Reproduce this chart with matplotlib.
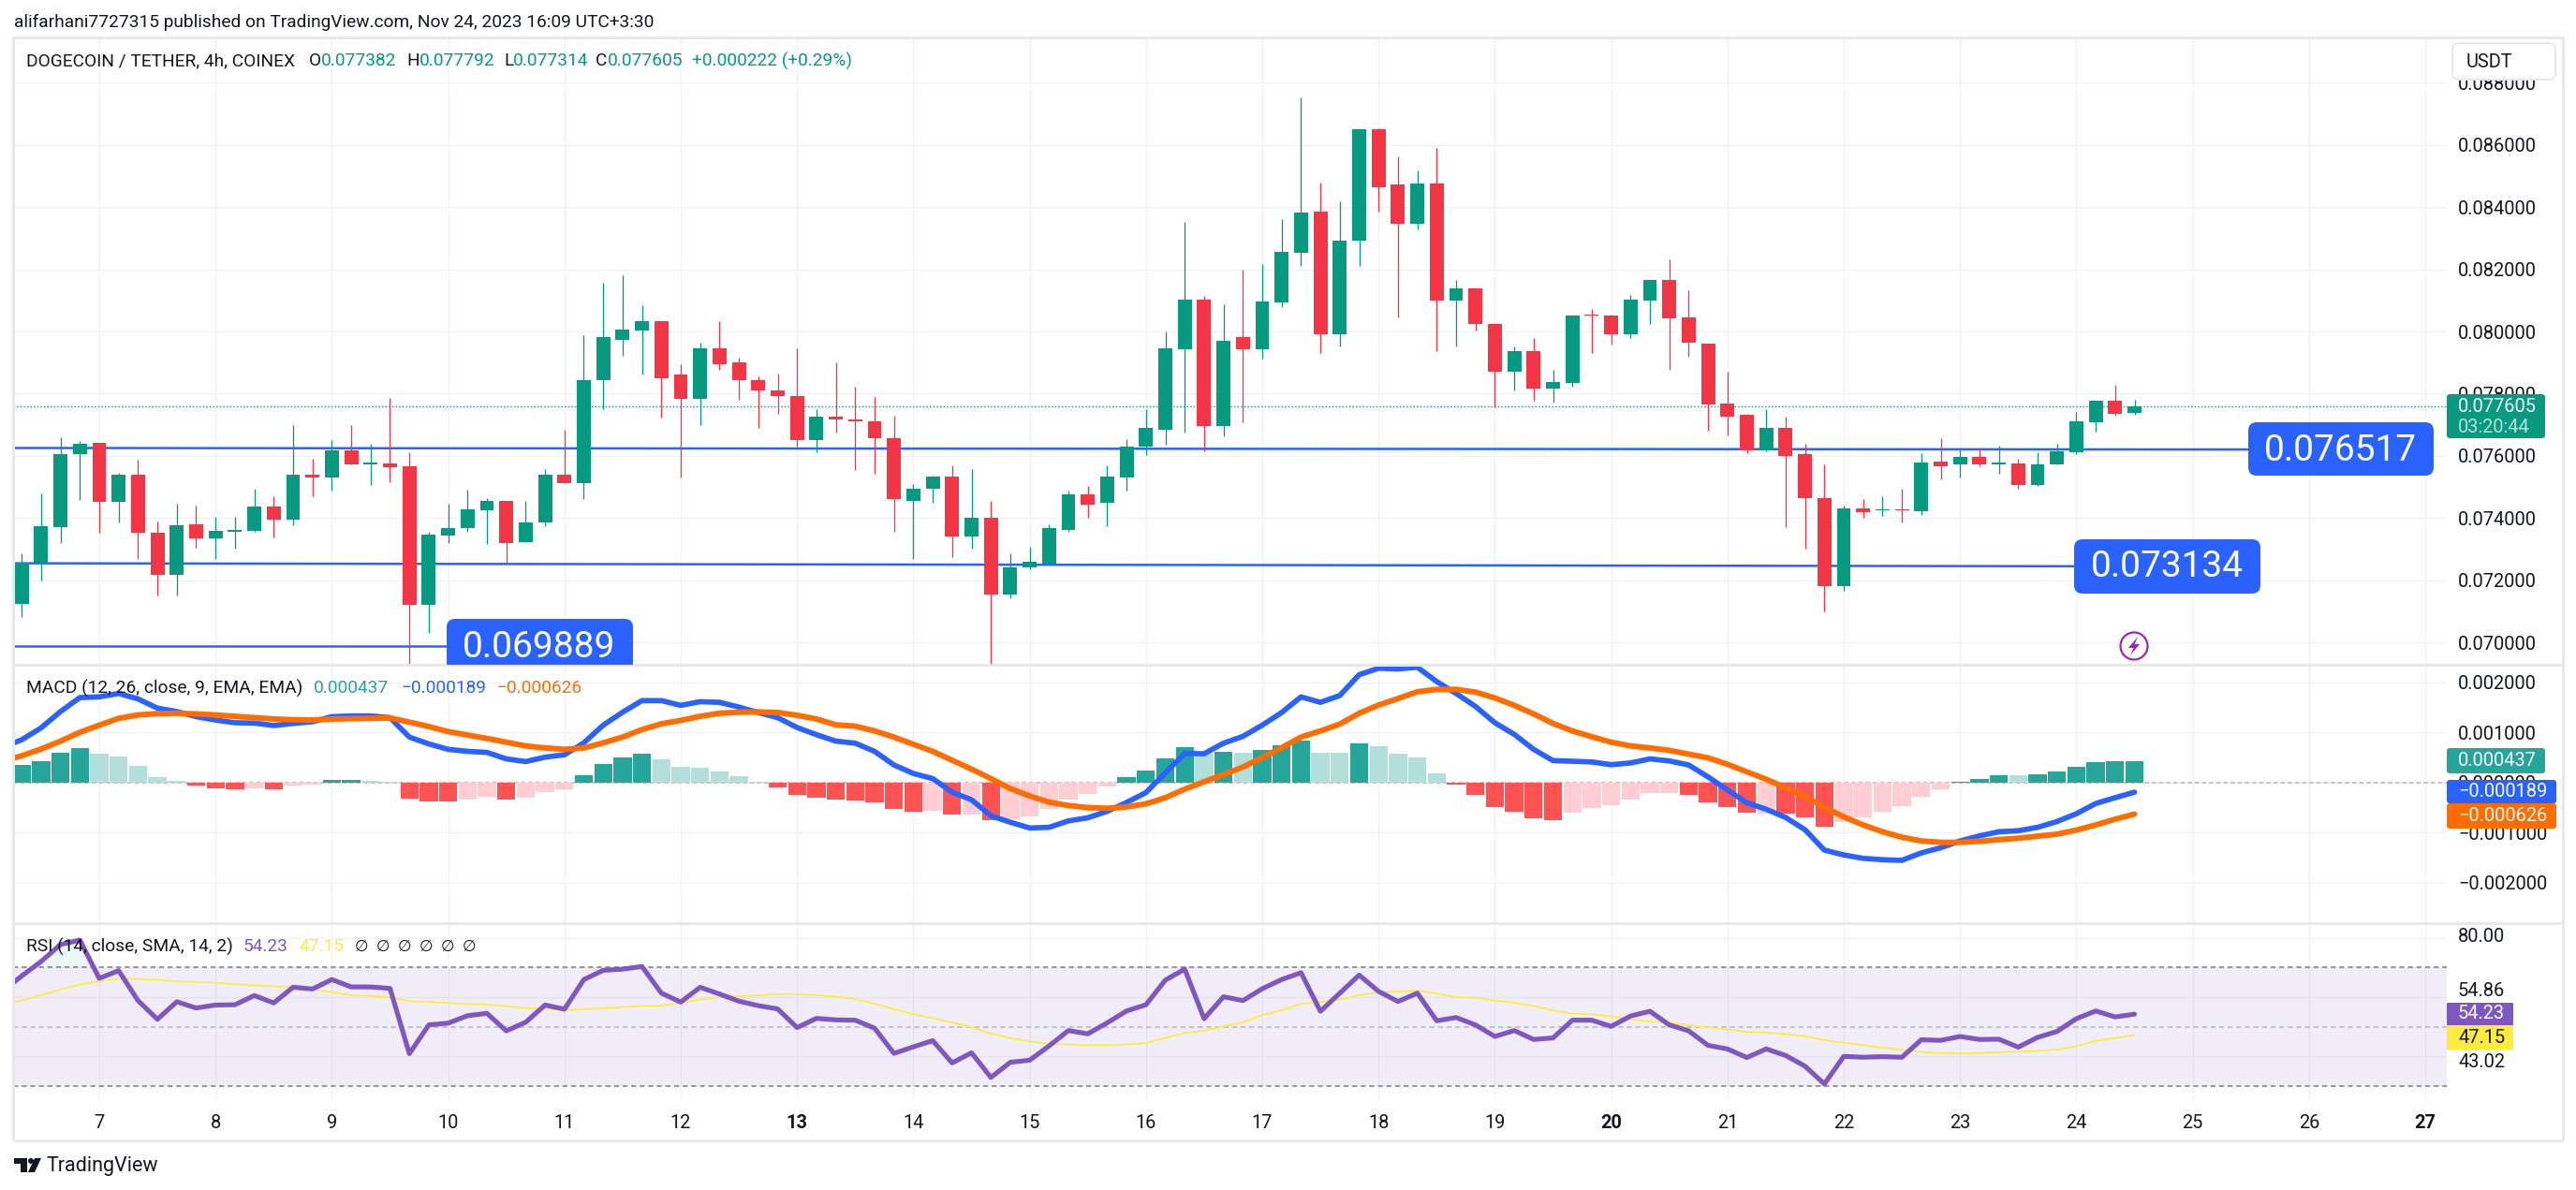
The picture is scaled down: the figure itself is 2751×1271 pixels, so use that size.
import numpy as np
import matplotlib.pyplot as plt
from matplotlib.patches import FancyBboxPatch, Rectangle, Polygon, Circle

plt.rcParams['font.family'] = ['Roboto', 'DejaVu Sans']

W, H = 2751, 1271
INK = '#131722'
GREEN = '#089981'
RED = '#f23645'
GRID = '#f0f2f6'
EDGE = '#e6e8ee'
FS = 14.4
LEG = 13.8

# candles, prices in millionths of USDT
open_e6 = [71245, 72559, 73693, 76044, 76431, 74509, 75380, 73540, 72185, 73803,
           73333, 73568, 73596, 74384, 73955, 75408, 75311, 76182, 75739, 75767,
           75670, 71217, 73444, 73665, 74260, 74536, 73236, 73872, 75408, 75131,
           78422, 79736, 80041, 80345, 78602, 77842, 79474, 79017, 78450, 78118,
           77938, 76514, 77247, 77183, 77097, 76581, 74563, 74932, 75326, 73419,
           73998, 71550, 72399, 72546, 73629, 74748, 74477, 75289, 76285, 76851,
           79422, 81021, 76974, 79815, 79422, 80922, 82521, 83850, 79926, 82915,
           86494, 84723, 83456, 84748, 80984, 81402, 80258, 78696, 79385, 78155,
           78339, 80529, 80504, 79902, 80984, 81648, 80469, 79626, 77689, 77330,
           76182, 76915, 76044, 74647, 71798, 74315, 74246, 74287, 74232, 75822,
           75712, 75975, 75739, 75767, 75048, 75712, 76127, 77067, 77759, 77382]
high_e6 = [72877, 74799, 76611, 76486, 76431, 75463, 75864, 73900, 74467, 74412,
           74052, 74025, 74951, 74688, 76998, 75892, 76514, 76998, 76403, 77869,
           76127, 73554, 74467, 74923, 74647, 74564, 74536, 75560, 76846, 79888,
           81576, 81797, 80857, 80345, 78962, 79653, 80345, 79169, 78561, 78658,
           79446, 77510, 79017, 78216, 77884, 77282, 75105, 75375, 75707, 75560,
           74539, 72854, 73063, 73788, 74895, 75018, 75683, 76531, 77491, 79988,
           83518, 81132, 80861, 82005, 82165, 83604, 87528, 84785, 84182, 86494,
           86544, 85621, 85178, 85892, 81673, 81402, 80258, 79508, 79779, 78782,
           80529, 80713, 80553, 81168, 81673, 82312, 81313, 79626, 78713, 77358,
           77510, 77275, 76403, 75712, 74412, 74619, 74716, 74951, 76099, 76583,
           76224, 76279, 76334, 75919, 76127, 76403, 77399, 77759, 78298, 77792]
low_e6 = [70830, 72005, 73181, 74592, 73513, 73872, 72669, 71521, 71521, 73056,
          72697, 73029, 73568, 73388, 73776, 74688, 74896, 75739, 75076, 75159,
          69308, 70290, 73209, 73568, 73153, 72559, 73236, 73748, 75131, 74619,
          77510, 79225, 78630, 77219, 75311, 76998, 78754, 77814, 76915, 77358,
          76293, 76113, 76749, 75547, 75437, 73542, 72694, 74502, 72731, 73001,
          69299, 71427, 72349, 72546, 73542, 74022, 73752, 74895, 76015, 76347,
          76740, 76138, 76617, 77073, 79114, 80775, 82103, 79299, 79508, 82103,
          83850, 80467, 83272, 79385, 79508, 80025, 77565, 78118, 77761, 77700,
          78216, 79323, 79594, 79779, 80258, 78758, 79197, 76818, 76666, 76099,
          76154, 73693, 73001, 71010, 71646, 73997, 74080, 73872, 74108, 75255,
          75311, 75670, 75435, 74951, 75020, 75712, 76044, 76791, 77302, 77314]
close_e6 = [72559, 73748, 76071, 76376, 74509, 75380, 73513, 72157, 73776, 73361,
            73596, 73610, 74384, 73955, 75408, 75311, 76182, 75739, 75767, 75643,
            71217, 73471, 73665, 74287, 74536, 73209, 73872, 75408, 75131, 78450,
            79833, 80068, 80345, 78505, 77842, 79474, 78962, 78450, 78118, 77911,
            76514, 77247, 77164, 77097, 76556, 74600, 74957, 75326, 73419, 73998,
            71550, 72423, 72583, 73665, 74748, 74440, 75326, 76310, 76888, 79446,
            81021, 76950, 79692, 79422, 80959, 82558, 83813, 79926, 82915, 86494,
            84637, 83456, 84748, 80984, 81402, 80234, 78696, 79385, 78155, 78364,
            80529, 80504, 79902, 81021, 81673, 80418, 79653, 77662, 77275, 76182,
            76887, 76002, 74647, 71798, 74315, 74204, 74287, 74246, 75795, 75670,
            75975, 75712, 75767, 75048, 75739, 76154, 77122, 77759, 77358, 77605]

# MACD histogram and lines, in millionths, lines start one bar before the first candle
hist_e6 = [360, 435, 598, 694, 585, 524, 340, 116, 41, -54,
           -109, -129, -109, -129, -54, -34, 61, 61, 41, 20,
           -313, -367, -367, -333, -279, -333, -292, -184, -129, 156,
           374, 510, 585, 469, 320, 299, 224, 136, 20, -88,
           -238, -292, -333, -354, -388, -517, -578, -558, -632, -632,
           -741, -728, -666, -517, -333, -218, -68, 116, 245, 490,
           714, 571, 619, 598, 660, 748, 843, 598, 598, 789,
           734, 585, 510, 190, -34, -238, -483, -578, -707, -741,
           -592, -503, -442, -333, -204, -204, -238, -388, -483, -592,
           -626, -612, -687, -877, -782, -687, -578, -462, -279, -129,
           20, 82, 143, 143, 170, 224, 320, 415, 435, 437]
hist_strong = [1, 1, 1, 1, 0, 0, 0, 0, 0, 1,
               1, 1, 0, 1, 0, 0, 1, 1, 0, 0,
               1, 1, 1, 0, 0, 1, 0, 0, 0, 1,
               1, 1, 1, 0, 0, 0, 0, 0, 0, 1,
               1, 1, 1, 1, 1, 1, 1, 0, 1, 0,
               1, 0, 0, 0, 0, 0, 0, 1, 1, 1,
               1, 0, 1, 0, 1, 1, 1, 0, 0, 1,
               0, 0, 0, 0, 1, 1, 1, 1, 1, 1,
               0, 0, 0, 0, 0, 0, 1, 1, 1, 1,
               0, 1, 1, 1, 0, 0, 0, 0, 0, 0,
               1, 1, 1, 0, 1, 1, 1, 1, 1, 1]
macd_e6 = [707, 857, 1095, 1421, 1700, 1714, 1782, 1673, 1489, 1421, 1319,
           1251, 1197, 1190, 1142, 1183, 1217, 1319, 1333, 1333, 1299,
           911, 775, 666, 626, 605, 476, 422, 510, 558, 796,
           1149, 1408, 1639, 1639, 1544, 1618, 1605, 1510, 1401, 1299,
           1102, 959, 830, 789, 626, 354, 184, 82, -190, -340,
           -660, -789, -904, -891, -762, -700, -571, -394, -197, 197,
           585, 578, 789, 925, 1149, 1401, 1714, 1605, 1741, 2156,
           2285, 2271, 2305, 2020, 1782, 1523, 1197, 966, 666, 442,
           428, 415, 360, 394, 476, 435, 354, 116, -143, -401,
           -530, -694, -938, -1346, -1442, -1510, -1537, -1550, -1401, -1299,
           -1163, -1061, -979, -959, -891, -775, -619, -415, -299, -189]
signal_e6 = [435, 537, 673, 830, 1006, 1149, 1285, 1353, 1380, 1387, 1374,
             1353, 1326, 1299, 1272, 1258, 1251, 1272, 1278, 1285, 1292,
             1210, 1122, 1020, 952, 884, 809, 734, 694, 666, 694,
             796, 911, 1061, 1176, 1244, 1326, 1387, 1408, 1414, 1401,
             1346, 1272, 1156, 1129, 1034, 911, 768, 626, 449, 272,
             82, -116, -265, -388, -456, -496, -510, -483, -422, -299,
             -129, 20, 163, 313, 503, 700, 911, 1034, 1170, 1387,
             1550, 1680, 1816, 1863, 1863, 1809, 1693, 1544, 1374, 1183,
             1034, 918, 809, 734, 694, 646, 571, 496, 367, 218,
             68, -102, -272, -496, -680, -843, -979, -1088, -1163, -1190,
             -1190, -1170, -1136, -1108, -1068, -1027, -945, -843, -728, -626]

# RSI and its average, same x as the MACD lines
rsi = [61.9, 67.1, 72.0, 77.7, 79.2, 66.3, 68.9, 58.8, 52.5, 58.4, 56.3,
       57.3, 57.4, 60.5, 58.0, 63.3, 62.7, 65.9, 63.4, 63.4, 62.9,
       40.9, 50.6, 51.2, 53.7, 54.5, 48.6, 51.5, 57.3, 55.9, 65.9,
       69.0, 69.4, 70.3, 61.3, 58.3, 63.3, 61.0, 58.6, 57.1, 56.0,
       49.7, 52.8, 52.3, 52.2, 49.5, 41.0, 43.2, 45.3, 37.8, 41.2,
       32.9, 38.0, 38.7, 43.5, 48.7, 47.6, 51.3, 55.3, 57.4, 65.7,
       69.4, 52.7, 60.1, 58.8, 62.8, 65.9, 68.2, 55.2, 61.3, 67.4,
       61.9, 58.5, 61.3, 52.0, 53.1, 50.6, 46.7, 48.7, 45.7, 46.2,
       52.2, 52.2, 50.1, 53.6, 55.2, 50.6, 48.6, 43.7, 42.5, 39.6,
       42.5, 40.3, 36.7, 30.7, 40.0, 39.7, 39.9, 39.7, 45.6, 45.4,
       46.7, 45.7, 45.8, 43.1, 46.4, 48.4, 52.7, 55.3, 53.3, 54.23]
rsi_ma = [57.6, 58.8, 60.7, 62.5, 64.2, 65.3, 66.1, 66.1, 65.8, 65.3, 65.1,
          64.8, 64.3, 64.0, 63.6, 63.3, 62.6, 61.6, 60.6, 60.4, 59.9,
          58.6, 58.4, 58.0, 57.7, 57.5, 56.9, 56.3, 56.0, 55.7, 55.9,
          56.2, 56.6, 57.0, 57.0, 58.1, 59.2, 59.9, 60.3, 60.5, 61.0,
          61.0, 60.6, 60.1, 59.3, 57.8, 55.9, 54.2, 52.9, 51.4, 49.8,
          47.7, 46.2, 45.0, 44.3, 44.0, 43.8, 43.8, 44.0, 44.5, 46.3,
          47.9, 48.7, 50.1, 51.5, 53.9, 55.5, 57.8, 58.3, 59.1, 60.7,
          61.5, 61.9, 62.1, 61.2, 59.9, 59.8, 58.8, 58.1, 57.0, 55.5,
          54.4, 54.2, 53.5, 52.4, 51.8, 51.4, 50.5, 49.8, 49.1, 48.3,
          48.0, 47.5, 46.8, 45.5, 44.6, 43.8, 42.9, 42.2, 41.5, 41.1,
          41.0, 41.1, 41.4, 41.6, 41.8, 42.3, 43.4, 45.2, 46.2, 47.15]

days = list(range(7, 28))
bold_days = [13, 20, 27]
price_ticks = [0.070, 0.072, 0.074, 0.076, 0.078, 0.080, 0.082, 0.084, 0.086, 0.088]
macd_ticks = [-0.002, -0.001, 0.0, 0.001, 0.002]
rsi_grid = [40, 60, 80]
# the three hand drawn levels: (value at left, value at right)
level_a = (0.076253, 0.076205)
level_b = (0.072545, 0.072449)
level_c = (0.069892, 0.069892)

o = np.array(open_e6) / 1e6
h = np.array(high_e6) / 1e6
l = np.array(low_e6) / 1e6
c = np.array(close_e6) / 1e6
bars = np.arange(len(o))
line_x = np.arange(-1, len(o))
day_pos = [4 + (d - 7) * 6 for d in days]

fig = plt.figure(figsize=(W / 100, H / 100), dpi=100, facecolor='white')


def pane(top, bottom):
    ax = fig.add_axes([14 / W, 1 - bottom / H, (2613 - 14) / W, (bottom - top) / H])
    ax.set_xlim(-0.444, 125.11)
    for s in ax.spines.values():
        s.set_visible(False)
    ax.set_xticks(day_pos)
    ax.tick_params(axis='x', length=0, labelbottom=False)
    ax.yaxis.tick_right()
    ax.tick_params(axis='y', length=0, pad=8.6, labelsize=FS, labelcolor=INK)
    ax.grid(True, color=GRID, lw=1)
    ax.set_axisbelow(True)
    return ax


# price pane
ax1 = pane(40, 710)
ax1.set_ylim(0.06928, 0.08946)
ax1.set_yticks(price_ticks)
ax1.set_yticklabels(['%.6f' % t for t in price_ticks])
colors = [GREEN if a >= b else RED for a, b in zip(c, o)]
ax1.axhline(c[-1], color=GREEN, lw=1, ls=(0, (1, 1.6)), zorder=1.5)
ax1.plot([-0.444, 114.9], level_a, color='#2962ff', lw=1.8, zorder=1.6)
ax1.plot([-0.444, 105.9], level_b, color='#2962ff', lw=1.8, zorder=1.6)
ax1.plot([-0.444, 22], level_c, color='#2962ff', lw=1.8, zorder=1.6)
ax1.vlines(bars, l, h, colors=colors, lw=0.95, zorder=2)
ax1.bar(bars, np.maximum(np.abs(c - o), 0.00004), bottom=np.minimum(o, c), width=0.72,
        color=colors, zorder=3)

# MACD pane
ax2 = pane(710, 986)
ax2.set_ylim(-0.002804, 0.002355)
ax2.set_yticks(macd_ticks)
ax2.set_yticklabels([('%.6f' % t).replace('-', '\u2212') for t in macd_ticks])
hist = np.array(hist_e6) / 1e6
hist_colors = []
for v, s in zip(hist, hist_strong):
    if v >= 0:
        hist_colors.append('#26a69a' if s else '#b2dfdb')
    else:
        hist_colors.append('#ff5252' if s else '#ffcdd2')
ax2.axhline(0, color='#b2b5be', lw=1.1, ls=(0, (3, 2)), zorder=1.5)
ax2.bar(bars, hist, width=0.93, color=hist_colors, zorder=2)
ax2.plot(line_x, np.array(macd_e6) / 1e6, color='#2962ff', lw=4.1, solid_capstyle='round', zorder=3)
ax2.plot(line_x, np.array(signal_e6) / 1e6, color='#ff6d00', lw=4.3, solid_capstyle='round', zorder=4)

# RSI pane
ax3 = pane(986, 1175)
ax3.set_ylim(25.25, 84.9)
ax3.set_yticks(rsi_grid)
ax3.tick_params(axis='y', labelright=False)
ax3.axhspan(30, 70, color='#7e57c2', alpha=0.1, lw=0, zorder=1)
ax3.axhline(70, color='#787b86', lw=1.1, ls=(0, (3.5, 2.5)), zorder=1.5)
ax3.axhline(50, color='#b2b5be', lw=1.1, ls=(0, (3.5, 2.5)), zorder=1.5)
ax3.axhline(30, color='#787b86', lw=1.1, ls=(0, (3.5, 2.5)), zorder=1.5)
rsi_arr = np.array(rsi)
ax3.fill_between(line_x, 70, rsi_arr, where=rsi_arr > 70, interpolate=True,
                 color='#089981', alpha=0.08, lw=0, zorder=1.2)
ax3.plot(line_x, rsi_ma, color='#ffeb3b', lw=1.3, zorder=2)
ax3.plot(line_x, rsi, color='#7e57c2', lw=3.7, solid_capstyle='round', zorder=3)
ax3.tick_params(axis='x', labelbottom=True, pad=11, labelsize=FS, labelcolor=INK)
ax3.set_xticklabels([str(d) for d in days])
for lab, d in zip(ax3.get_xticklabels(), days):
    if d in bold_days:
        lab.set_fontweight('bold')

# overlay in pixels for frame, legends, price labels
ov = fig.add_axes([0, 0, 1, 1])
ov.set_xlim(0, W)
ov.set_ylim(H, 0)
ov.axis('off')
ov.patch.set_visible(False)

for y in [40, 710, 986, 1218]:
    ov.plot([14, 2737], [y, y], color=EDGE, lw=2.2, solid_capstyle='butt')
for x in [14, 2737]:
    ov.plot([x, x], [40, 1218], color=EDGE, lw=2.2, solid_capstyle='butt')


def txt(x, y, s, color=INK, size=FS, **kw):
    ov.text(x, y, s, color=color, fontsize=size, va='center', **kw)


def tag(x0, x1, y0, y1, color, round_px=3):
    ov.add_patch(FancyBboxPatch((x0, y0), x1 - x0, y1 - y0, linewidth=0, facecolor=color,
                                boxstyle='round,pad=0,rounding_size=%d' % round_px, zorder=5))


txt(15, 24, 'alifarhani7727315 published on TradingView.com, Nov 24, 2023 16:09 UTC+3:30', size=LEG)
txt(27.5, 65, 'DOGECOIN / TETHER, 4h, COINEX', size=LEG)
for x, s, col in [(329.5, 'O', INK), (343.3, '0.077382', GREEN), (434.6, 'H', INK), (447.8, '0.077792', GREEN),
                  (538, 'L', INK), (548, '0.077314', GREEN), (636, 'C', INK), (648.7, '0.077605', GREEN),
                  (739, '+0.000222 (+0.29%)', GREEN)]:
    txt(x, 65, s, color=col, size=LEG)

txt(27.5, 735, 'MACD (12, 26, close, 9, EMA, EMA)', size=LEG)
txt(335, 735, '0.000437', color='#26a69a', size=LEG)
txt(428, 735, '\u22120.000189', color='#2962ff', size=LEG)
txt(530, 735, '\u22120.000626', color='#ff6d00', size=LEG)

txt(27.5, 1011, 'RSI (14, close, SMA, 14, 2)', size=LEG)
txt(260, 1011, '54.23', color='#7e57c2', size=LEG)
txt(320, 1011, '47.15', color='#ffeb3b', size=LEG)
for x in [379, 402, 425, 448, 471, 494]:
    txt(x, 1011, '\u2205', size=12)

# USDT button
ov.add_patch(FancyBboxPatch((2619, 46), 110, 39, linewidth=1.4, edgecolor=EDGE, facecolor='white',
                            boxstyle='round,pad=0,rounding_size=7', zorder=5))
txt(2634, 66, 'USDT', zorder=6)

# last value tags on the scale
tag(2613, 2718, 421, 468, GREEN)
txt(2625, 434, '0.077605', color='white', zorder=6)
txt(2625, 456, '03:20:44', color='#b8e0d8', zorder=6)
tag(2613, 2718, 799, 826, '#26a69a')
txt(2625, 812.5, '0.000437', color='white', zorder=6)
tag(2613, 2730, 833, 858, '#2962ff')
txt(2625, 845.5, '\u22120.000189', color='white', zorder=6)
tag(2613, 2730, 858, 885, '#ff6d00')
txt(2625, 871.5, '\u22120.000626', color='white', zorder=6)

txt(2625, 1001, '80.00')
txt(2625, 1058, '54.86')
txt(2625, 1135, '43.02')
tag(2613, 2684, 1071, 1095, '#7e57c2', round_px=1)
txt(2625, 1083, '54.23', color='white', zorder=6)
tag(2613, 2684, 1095, 1121, '#ffeb3b', round_px=1)
txt(2625, 1108, '47.15', zorder=6)

# level labels
tag(2401, 2599, 451, 508, '#2962ff', round_px=9)
txt(2499, 481, '0.076517', color='white', size=28, ha='center', zorder=6)
tag(2215, 2414, 576, 634, '#2962ff', round_px=9)
txt(2314, 606, '0.073134', color='white', size=28, ha='center', zorder=6)
box_c = FancyBboxPatch((477, 661), 199, 70, linewidth=0, facecolor='#2962ff',
                       boxstyle='round,pad=0,rounding_size=9', zorder=5)
ov.add_patch(box_c)
box_c.set_clip_path(Rectangle((14, 40), 2599, 670, transform=ov.transData))
txt(576, 691, '0.069889', color='white', size=28, ha='center', zorder=6)

# lightning mark
ov.add_patch(Circle((2279, 690), 14.5, fill=False, edgecolor='#9c27b0', lw=1.6, zorder=5))
ov.add_patch(Polygon([(2283, 680), (2273, 692), (2278.5, 692), (2275, 700), (2285, 688), (2279.5, 688)],
                     closed=True, facecolor='#9c27b0', lw=0, zorder=5))

# TradingView logo
ov.add_patch(Polygon([(15, 1237), (29, 1237), (29, 1252), (22, 1252), (22, 1243), (15, 1243)],
                     closed=True, facecolor=INK, lw=0))
ov.add_patch(Circle((33, 1240), 3, facecolor=INK, lw=0))
ov.add_patch(Polygon([(37, 1237), (44, 1237), (37, 1252), (30, 1252)], closed=True, facecolor=INK, lw=0))
txt(50, 1246, 'TradingView', size=15.5)

fig.savefig('out.png', dpi=100)
